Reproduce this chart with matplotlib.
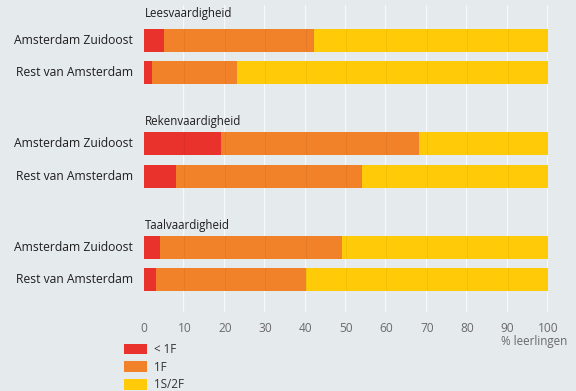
import matplotlib
matplotlib.use("Agg")
import matplotlib.pyplot as plt
from matplotlib.patches import Patch

plt.rcParams["font.family"] = ["Open Sans", "DejaVu Sans"]

# percentage of pupils per level, per skill
SKILLS = ["Leesvaardigheid", "Rekenvaardigheid", "Taalvaardigheid"]
AREAS = ["Amsterdam Zuidoost", "Rest van Amsterdam"]
BELOW_1F = [[5, 2], [19, 8], [4, 3]]
LEVEL_1F = [[37, 21], [49, 46], [45, 37]]
LEVEL_2F = [[58, 77], [32, 46], [51, 60]]
LEVELS = ["< 1F", "1F", "1S/2F"]
COLORS = ["#e8322b", "#f28229", "#ffcb08"]
XTICKS = list(range(0, 101, 10))

BG = "#e5eaed"
INK = "#1e1e1e"

fig = plt.figure(figsize=(5.76, 3.91), dpi=100, facecolor=BG)
ax = fig.add_axes([144 / 576, 1 - 312 / 391, 404 / 576, 307 / 391], facecolor=BG)
ax.set_xlim(0, 100)
ax.set_ylim(312, 5)   # vertical layout in pixel-like units, top to bottom

title_y = [14, 121, 225]
bar_y = [[40.5, 72.5], [143.5, 176.5], [247.5, 279.5]]
bar_h = 23

for g, skill in enumerate(SKILLS):
    ax.text(0.3, title_y[g], skill, fontsize=8.3, va="center", ha="left", color=INK)
    for r, area in enumerate(AREAS):
        y = bar_y[g][r]
        vals = [BELOW_1F[g][r], LEVEL_1F[g][r], LEVEL_2F[g][r]]
        left = 0
        for v, c in zip(vals, COLORS):
            ax.barh(y, v, left=left, height=bar_h, color=c, lw=0, zorder=2)
            left += v
        ax.text(-2.7, y, area, fontsize=8.7, ha="right", va="center",
                color=INK, clip_on=False)

# white grid behind, faint darker ticks through the bars
for x in XTICKS[1:]:
    ax.axvline(x, color="white", lw=1.2, alpha=0.85, zorder=1)
    ax.axvline(x, color="#000000", lw=0.6, alpha=0.06, zorder=3)

for s in ax.spines.values():
    s.set_visible(False)
ax.set_yticks([])
ax.set_xticks(XTICKS)
ax.set_xticklabels([str(t) for t in XTICKS], fontsize=8.6, color="#6a6a6a")
ax.tick_params(axis="x", length=0, pad=7)

fig.text(567 / 576, 1 - 341 / 391, "% leerlingen", fontsize=8.4, color="#6a6a6a",
         ha="right", va="center")

handles = [Patch(facecolor=c, edgecolor="none") for c in COLORS]
fig.legend(handles, LEVELS, loc="upper left", bbox_to_anchor=(124 / 576, 1 - 343 / 391),
           frameon=False, fontsize=8.4, handlelength=2.0, handleheight=1.0,
           labelspacing=0.40, handletextpad=0.55, borderpad=0, borderaxespad=0,
           labelcolor="#333333")

fig.savefig("out.png", dpi=100, facecolor=BG)
